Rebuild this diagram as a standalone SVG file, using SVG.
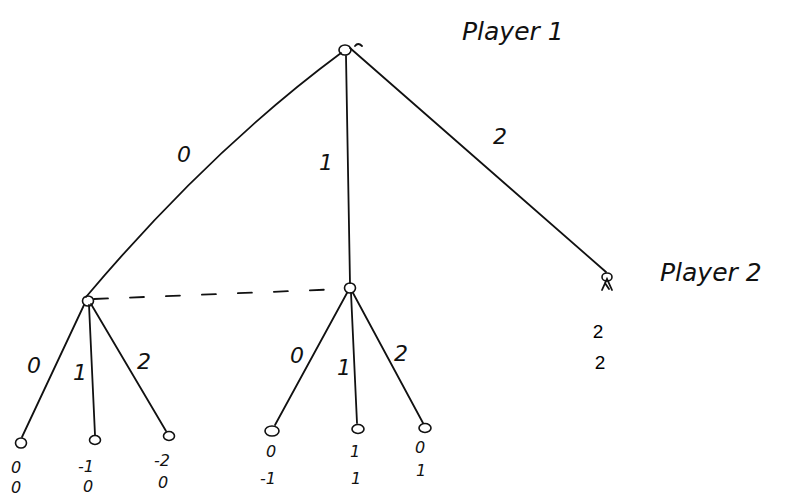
<svg xmlns="http://www.w3.org/2000/svg" width="790" height="499" viewBox="0 0 790 499">
<style>
.e{fill:none;stroke:#111;stroke-width:1.8;stroke-linecap:round}
.n{fill:none;stroke:#111;stroke-width:1.6}
.h{font-family:"DejaVu Sans",sans-serif;font-style:italic;font-size:22px;fill:#111;text-anchor:middle}
.v{font-family:"DejaVu Sans",sans-serif;font-style:italic;font-size:16px;fill:#111;text-anchor:middle}
.p{font-family:"Liberation Sans",sans-serif;font-size:19px;fill:#000;text-anchor:middle}
.t{font-family:"DejaVu Sans",sans-serif;font-style:italic;font-size:25px;fill:#111}
</style>
<rect width="790" height="499" fill="#fff"/>
<g id="connectors">
<path class="e" d="M341,53 Q210,150 86,297"/>
<path class="e" d="M346,56 L350,283"/>
<path class="e" d="M350,48 L606,272"/>
<path class="e" d="M94,299 L343,289" stroke-dasharray="14,22"/>
<path class="e" d="M84,305 L22,437"/>
<path class="e" d="M89,305 L95,435"/>
<path class="e" d="M91,304 L166,431"/>
<path class="e" d="M347,293 L275,425"/>
<path class="e" d="M351,293 L357,423"/>
<path class="e" d="M353,293 L423,423"/>
</g>
<g id="root"><ellipse class="n" cx="345" cy="50" rx="6" ry="5"/><path class="e" d="M355,46 Q358,42 362,46" stroke-width="1.2"/></g>
<g id="left"><ellipse class="n" cx="88" cy="301" rx="5.5" ry="5"/></g>
<g id="mid"><ellipse class="n" cx="350" cy="288" rx="5.5" ry="5"/></g>
<g id="right"><ellipse class="n" cx="607" cy="277" rx="5" ry="4"/><path class="e" d="M602,290 L607,279 L612,290 M605,283 L609,289" stroke-width="1.5"/></g>
<g id="l0"><ellipse class="n" cx="21" cy="443" rx="5.5" ry="5"/></g>
<g id="l1"><ellipse class="n" cx="95" cy="440" rx="5.5" ry="4.5"/></g>
<g id="l2"><ellipse class="n" cx="169" cy="436" rx="5.5" ry="4.5"/></g>
<g id="m0"><ellipse class="n" cx="272" cy="431" rx="7" ry="5"/></g>
<g id="m1"><ellipse class="n" cx="358" cy="429" rx="6" ry="4.5"/></g>
<g id="m2"><ellipse class="n" cx="425" cy="428" rx="6" ry="4.5"/></g>
<g id="labels">
<text class="t" x="462" y="40">Player 1</text>
<text class="t" x="660" y="281">Player 2</text>
<text class="h" x="184" y="162">0</text>
<text class="h" x="326" y="170">1</text>
<text class="h" x="500" y="144">2</text>
<text class="h" x="34" y="373">0</text>
<text class="h" x="80" y="380">1</text>
<text class="h" x="144" y="369">2</text>
<text class="h" x="297" y="363">0</text>
<text class="h" x="344" y="375">1</text>
<text class="h" x="401" y="361">2</text>
<text class="v" x="16" y="473">0</text>
<text class="v" x="16" y="493">0</text>
<text class="v" x="86" y="472">-1</text>
<text class="v" x="88" y="492">0</text>
<text class="v" x="162" y="466">-2</text>
<text class="v" x="163" y="488">0</text>
<text class="v" x="271" y="457">0</text>
<text class="v" x="268" y="484">-1</text>
<text class="v" x="355" y="457">1</text>
<text class="v" x="356" y="484">1</text>
<text class="v" x="420" y="453">0</text>
<text class="v" x="421" y="476">1</text>
<text class="p" x="598" y="338">2</text>
<text class="p" x="600" y="369">2</text>
</g>
</svg>
